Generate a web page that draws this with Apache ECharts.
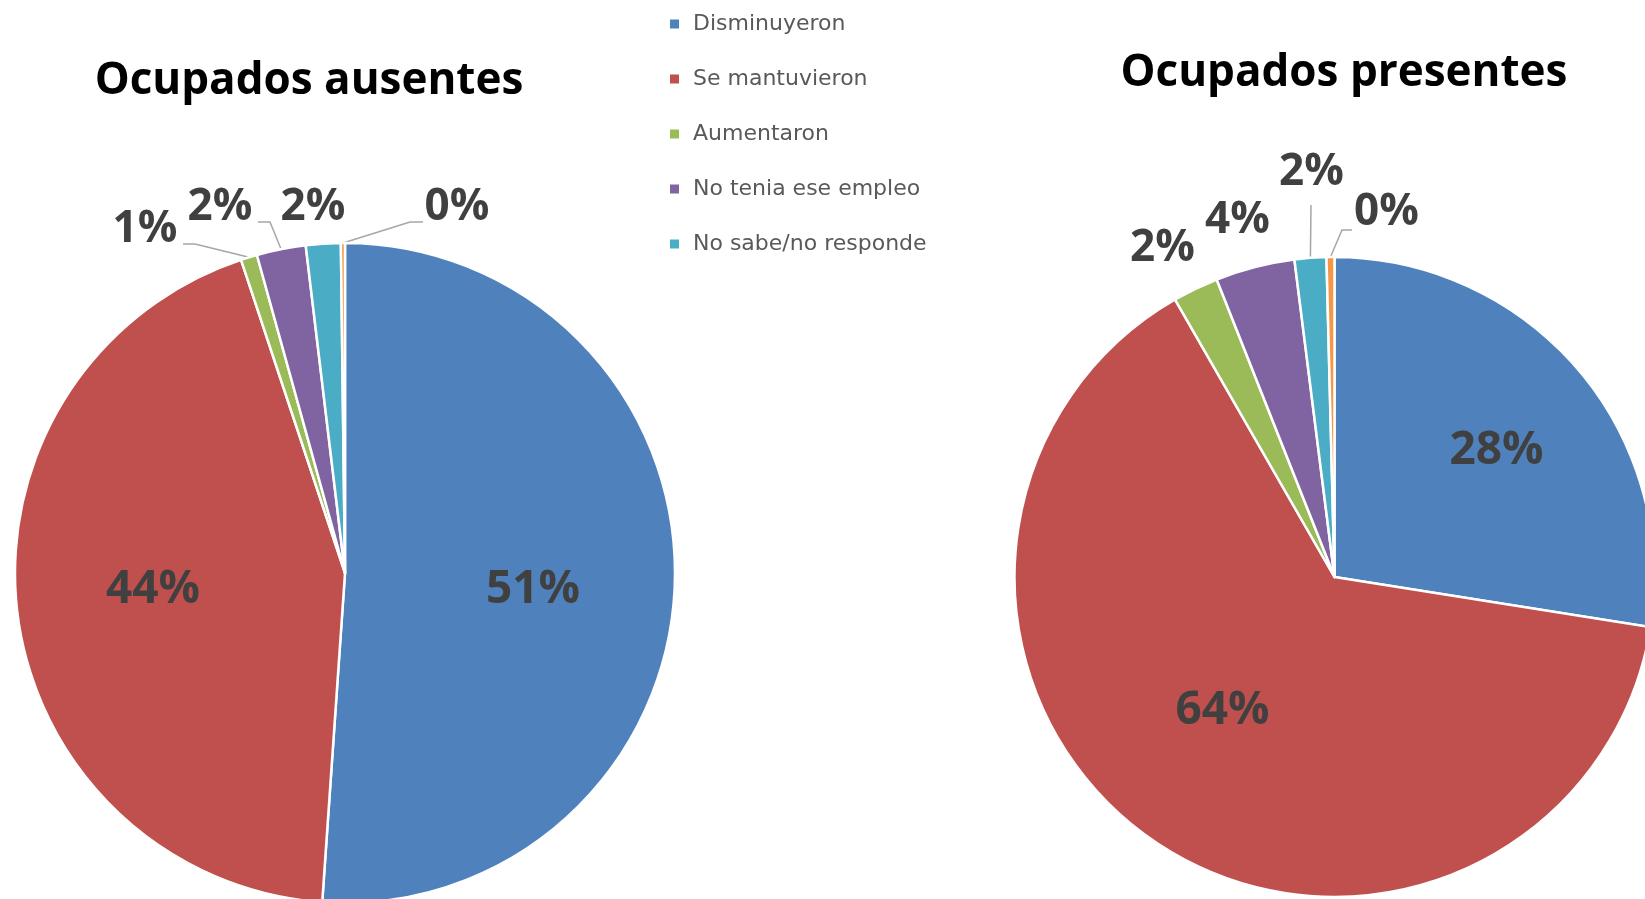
<!DOCTYPE html>
<html>
<head>
<meta charset="utf-8">
<script src="https://cdn.jsdelivr.net/npm/echarts@6/dist/echarts.min.js"></script>
<style>
html,body{margin:0;padding:0;background:#fff;}
#chart{width:1645px;height:899px;}
</style>
</head>
<body>
<div id="chart"></div>
<script>
// ---- data ----
const categories = ['Disminuyeron', 'Se mantuvieron', 'Aumentaron', 'No tenia ese empleo', 'No sabe/no responde', 'Otro'];
const legendItems = ['Disminuyeron', 'Se mantuvieron', 'Aumentaron', 'No tenia ese empleo', 'No sabe/no responde'];
const ausentes = [51.1, 43.8, 0.8, 2.4, 1.7, 0.2];
const presentes = [27.5, 64.2, 2.3, 4.0, 1.6, 0.4];
const titles = ['Ocupados ausentes', 'Ocupados presentes'];

// ---- styling / layout ----
const colors = ['#4F81BD', '#C0504D', '#9BBB59', '#8064A2', '#4BACC6', '#F79646'];
const centers = [[345, 573], [1334.5, 577]];
const radii = [330, 320];
const titlePos = [[309, 81], [1344, 73]];
// label placement, offsets from pie centre (px)
const labelOffsets = [
  {0: [188, 17], 1: [-192, 17], 2: [-200, -344], 3: [-125, -366], 4: [-32, -366], 5: [112, -366]},
  {0: [162, -126], 1: [-112, 134], 2: [-172, -329], 3: [-97, -357], 4: [-23, -405], 5: [52, -365]}
];
// leader line bend points (after the anchor on the slice edge), offsets from pie centre
const linePoints = [
  {2: [[-150, -329], [-162, -329]], 3: [[-75, -351], [-87, -351]], 5: [[65, -351], [78, -351]]},
  {4: [[-23.5, -372]], 5: [[7.5, -347], [17.5, -347]]}
];

const labelFont = '"Open Sans", "Noto Sans", sans-serif';

function buildData(values, si) {
  return values.map((v, i) => {
    const outer = i >= 2;
    return {
      name: categories[i],
      value: v,
      itemStyle: {color: colors[i]},
      label: {position: outer ? 'outside' : 'inside', fontSize: outer ? 44 : 46},
      labelLine: {show: !!linePoints[si][i]}
    };
  });
}

function makeSeries(values, si) {
  return {
    type: 'pie',
    center: centers[si],
    radius: radii[si],
    startAngle: 90,
    clockwise: true,
    avoidLabelOverlap: false,
    minAngle: 0,
    animation: false,
    itemStyle: {borderColor: '#ffffff', borderWidth: 2.5},
    label: {
      show: true,
      formatter: p => Math.round(p.value) + '%',
      fontFamily: labelFont,
      fontWeight: 'bold',
      fontSize: 44,
      color: '#404040'
    },
    labelLine: {
      show: true,
      length: 12,
      length2: 12,
      lineStyle: {color: '#a6a6a6', width: 1.5}
    },
    emphasis: {disabled: true},
    labelLayout: function (params) {
      const off = labelOffsets[si][params.dataIndex];
      if (!off) return {};
      const c = centers[si];
      const res = {
        x: c[0] + off[0],
        y: c[1] + off[1],
        align: 'center',
        verticalAlign: 'middle'
      };
      const lp = linePoints[si][params.dataIndex];
      if (lp && params.labelLinePoints && params.labelLinePoints.length) {
        const anchor = params.labelLinePoints[0];
        res.labelLinePoints = [anchor.slice()].concat(lp.map(p => [c[0] + p[0], c[1] + p[1]]));
      }
      return res;
    },
    data: buildData(values, si)
  };
}

const chart = echarts.init(document.getElementById('chart'), null, {renderer: 'canvas'});
chart.setOption({
  backgroundColor: '#ffffff',
  animation: false,
  legend: {
    data: legendItems,
    orient: 'vertical',
    left: 663,
    top: 8,
    itemWidth: 11,
    itemHeight: 11,
    itemGap: 33,
    icon: 'rect',
    textStyle: {
      fontFamily: '"DejaVu Sans", sans-serif',
      fontSize: 22,
      lineHeight: 22,
      color: '#595959',
      padding: [0, 0, 0, 8]
    },
    selectedMode: false
  },
  graphic: titles.map((t, i) => ({
    type: 'text',
    x: titlePos[i][0],
    y: titlePos[i][1],
    style: {
      text: t,
      font: 'bold 44px "Open Sans", "Noto Sans", sans-serif',
      fill: '#000000',
      align: 'center',
      verticalAlign: 'middle',
      textAlign: 'center',
      textVerticalAlign: 'middle'
    }
  })),
  series: [makeSeries(ausentes, 0), makeSeries(presentes, 1)]
});
</script>
</body>
</html>
